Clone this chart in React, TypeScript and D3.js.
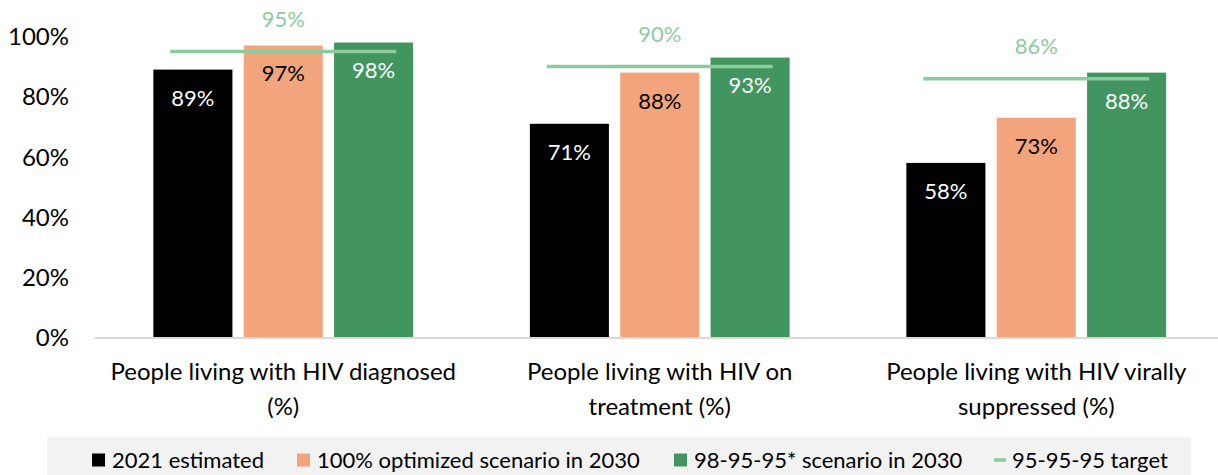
import React from "react";
import * as d3 from "d3";

const categories = [
  "People living with HIV diagnosed (%)",
  "People living with HIV on treatment (%)",
  "People living with HIV virally suppressed (%)",
];
const categoryLines = [
  ["People living with HIV diagnosed", "(%)"],
  ["People living with HIV on", "treatment (%)"],
  ["People living with HIV virally", "suppressed (%)"],
];
const estimated2021 = [89, 71, 58];
const optimized2030 = [97, 88, 73];
const scenario2030 = [98, 93, 88];
const target959595 = [95, 90, 86];
const yTicks = [0, 20, 40, 60, 80, 100];

const seriesNames = [
  "2021 estimated",
  "100% optimized scenario in 2030",
  "98-95-95* scenario in 2030",
];
const seriesValues = [estimated2021, optimized2030, scenario2030];
const seriesColors = ["#000000", "#F2A47C", "#43955F"];
const labelColors = ["#FFFFFF", "#000000", "#FFFFFF"];
const targetName = "95-95-95 target";
const targetColor = "#8DCB9F";

const W = 1218;
const H = 475;
const FONT = "Lato, 'Open Sans', sans-serif";

export default function App() {
  const x0 = d3
    .scaleBand<string>()
    .domain(categories)
    .range([95, 1224.5])
    .paddingInner(0.31)
    .paddingOuter(0.155);
  const x1 = d3
    .scaleBand<string>()
    .domain(seriesNames)
    .range([0, x0.bandwidth()])
    .paddingInner(0.125);
  const y = d3.scaleLinear().domain([0, 100]).range([337.5, 36.5]);

  const legendX = [92, 297, 674, 994];

  return (
    <svg
      width={W}
      height={H}
      style={{ position: "absolute", left: 0, top: 0, background: "#fff" }}
      fontFamily={FONT}
    >
      {/* y tick labels */}
      {yTicks.map((t) => (
        <text
          key={t}
          x={69}
          y={y(t)}
          dy="0.36em"
          textAnchor="end"
          fontSize={24}
          fill="#000"
        >
          {t}%
        </text>
      ))}

      {/* bars */}
      {categories.map((c, ci) => (
        <g key={c} transform={`translate(${x0(c)},0)`}>
          {seriesNames.map((s, si) => {
            const v = seriesValues[si][ci];
            return (
              <rect
                key={s}
                x={x1(s)}
                y={y(v)}
                width={x1.bandwidth()}
                height={y(0) - y(v)}
                fill={seriesColors[si]}
              />
            );
          })}
          {seriesNames.map((s, si) => {
            const v = seriesValues[si][ci];
            return (
              <text
                key={s + "l"}
                x={(x1(s) as number) + x1.bandwidth() / 2}
                y={y(v) + 28}
                dy="0.36em"
                textAnchor="middle"
                fontSize={22}
                fill={labelColors[si]}
              >
                {v}%
              </text>
            );
          })}
        </g>
      ))}

      {/* axis line */}
      <line x1={95} x2={W} y1={y(0) + 0.5} y2={y(0) + 0.5} stroke="#D9D9D9" strokeWidth={2} />

      {/* target lines */}
      {categories.map((c, ci) => {
        const cx = (x0(c) as number) + x0.bandwidth() / 2;
        const half = x0.step() * 0.3;
        const ty = y(target959595[ci]);
        return (
          <g key={c + "t"}>
            <line
              x1={cx - half}
              x2={cx + half}
              y1={ty}
              y2={ty}
              stroke={targetColor}
              strokeWidth={3.5}
            />
            <text
              x={cx}
              y={ty - 32.5}
              dy="0.36em"
              textAnchor="middle"
              fontSize={22}
              fill={targetColor}
            >
              {target959595[ci]}%
            </text>
          </g>
        );
      })}

      {/* category labels */}
      {categories.map((c, ci) => {
        const cx = (x0(c) as number) + x0.bandwidth() / 2;
        return (
          <text key={c + "c"} textAnchor="middle" fontSize={24} fill="#000">
            {categoryLines[ci].map((ln, li) => (
              <tspan key={li} x={cx} y={371.5 + li * 35} dy="0.36em">
                {ln}
              </tspan>
            ))}
          </text>
        );
      })}

      {/* legend */}
      <rect x={47} y={437} width={1191 - 47} height={H - 437} fill="#F2F2F2" />
      {seriesNames.map((s, si) => (
        <g key={s + "lg"}>
          <rect x={legendX[si]} y={453.5} width={13} height={13} fill={seriesColors[si]} />
          <text x={legendX[si] + 20} y={460} dy="0.36em" fontSize={22} fill="#000">
            {s}
          </text>
        </g>
      ))}
      <line
        x1={legendX[3]}
        x2={legendX[3] + 12}
        y1={460}
        y2={460}
        stroke={targetColor}
        strokeWidth={3.5}
      />
      <text x={legendX[3] + 18} y={460} dy="0.36em" fontSize={22} fill="#000">
        {targetName}
      </text>
    </svg>
  );
}
